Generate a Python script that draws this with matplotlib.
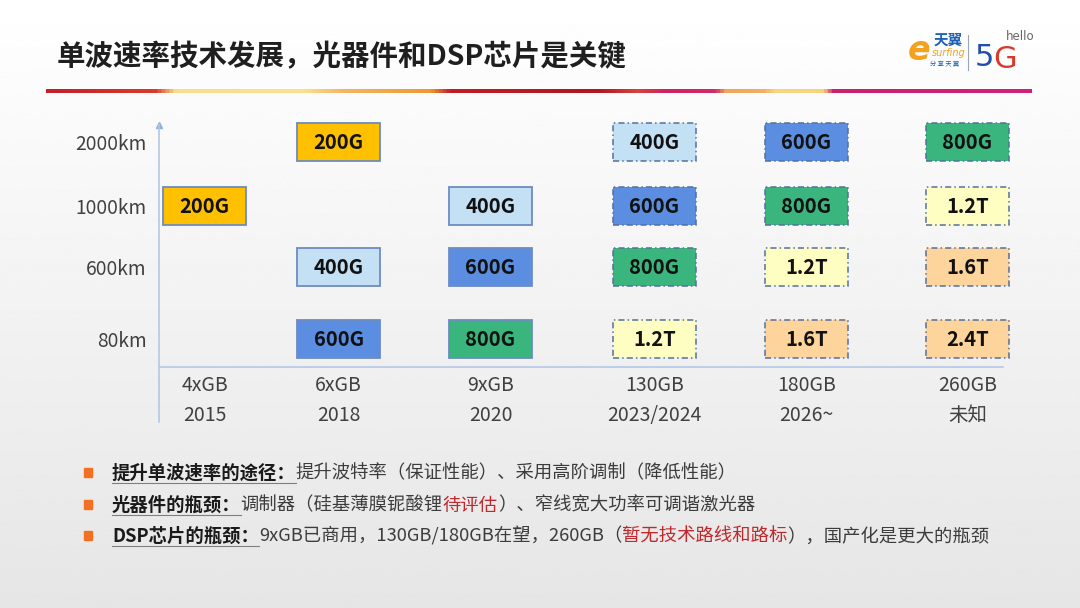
import matplotlib.pyplot as plt
import numpy as np
from matplotlib.patches import Rectangle
from matplotlib.colors import LinearSegmentedColormap

plt.rcParams['font.family'] = ['Noto Sans CJK SC', 'DejaVu Sans']

# ---- data ----
distances = ['80km', '600km', '1000km', '2000km']
baud_rates = ['4xGB', '6xGB', '9xGB', '130GB', '180GB', '260GB']
years = ['2015', '2018', '2020', '2023/2024', '2026~', '未知']
# single-wave rate per column, from 80km (bottom) up to 2000km; None = no box
rates = [
    [None, None, '200G', None],
    ['600G', '400G', None, '200G'],
    ['800G', '600G', '400G', None],
    ['1.2T', '800G', '600G', '400G'],
    ['1.6T', '1.2T', '800G', '600G'],
    ['2.4T', '1.6T', '1.2T', '800G'],
]
commercial = [True, True, True, False, False, False]

title = '单波速率技术发展，光器件和DSP芯片是关键'
bullets = [
    [('提升单波速率的途径：', 'b'), ('提升波特率（保证性能）、采用高阶调制（降低性能）', 'n')],
    [('光器件的瓶颈：', 'b'), ('调制器（硅基薄膜铌酸锂', 'n'), ('待评估', 'r'),
     ('）、窄线宽大功率可调谐激光器', 'n')],
    [('DSP芯片的瓶颈：', 'b'), ('9xGB已商用，130GB/180GB在望，260GB（', 'n'),
     ('暂无技术路线和路标', 'r'), ('），国产化是更大的瓶颈', 'n')],
]

# layout: slide column / row placement (not data)
col_pos = [0, 0.878, 1.874, 2.949, 3.945, 5.0]
row_pos = [0, 1.096, 2.024, 3.0]

rate_colors = {
    '200G': '#ffc000',
    '400G': '#c3e0f5',
    '600G': '#5b8ee0',
    '800G': '#3bb57e',
    '1.2T': '#fefec3',
    '1.6T': '#fcd49c',
    '2.4T': '#fcd49c',
}
seg_colors = {'b': '#1a1a1a', 'n': '#3c3c3c', 'r': '#c0282d'}

fig = plt.figure(figsize=(10.8, 6.08), dpi=100)

# ---- slide background / decorations (pixel coordinates) ----
bg = fig.add_axes([0, 0, 1, 1])
grad = np.linspace(1.0, 0.90, 256)[:, None]
bg.imshow(grad, extent=[0, 1080, 608, 0], cmap='gray', vmin=0, vmax=1, aspect='auto', zorder=0)

line_cmap = LinearSegmentedColormap.from_list('bar', [
    (0.0, '#c41f2a'), (0.11, '#dc3a2c'), (0.13, '#f9df8c'), (0.26, '#fbe08e'),
    (0.30, '#f5b664'), (0.39, '#ee9830'), (0.41, '#c21d27'), (0.56, '#b3141f'),
    (0.60, '#d8423a'), (0.63, '#cf2063'), (0.68, '#d62a6a'), (0.69, '#f0a55a'),
    (0.73, '#f3b066'), (0.74, '#f9d680'), (0.79, '#f9d27c'), (0.80, '#cc1f6c'),
    (1.0, '#d21f78')])
bg.imshow(np.linspace(0, 1, 512)[None, :], extent=[46, 1032, 93, 89], cmap=line_cmap,
          aspect='auto', zorder=1)

bg.text(57, 57, title, fontsize=20.5, fontweight='bold', va='center', ha='left', color='#1f1f1f')

# logo (approximation)
bg.text(908, 50, 'e', fontsize=24, color='#f4a11d', fontweight='bold', style='italic',
        va='center', ha='left', family='DejaVu Sans')
bg.text(934, 40, '天翼', fontsize=10.5, color='#1d5fb5', fontweight='bold', va='center', ha='left')
bg.text(932, 53, 'surfing', fontsize=7, color='#f4a11d', style='italic', va='center', ha='left',
        family='DejaVu Sans')
bg.text(930, 64, '分 享 天 翼', fontsize=4.5, color='#1d5fb5', va='center', ha='left')
bg.plot([968, 968], [35, 70], color='#9aa5b5', lw=0.8)
bg.text(975, 58, '5', fontsize=22, color='#1f4fa8', va='center', ha='left', family='DejaVu Sans')
bg.text(993, 59, 'G', fontsize=22, color='#d8392b', va='center', ha='left', family='DejaVu Sans')
bg.text(1006, 37, 'hello', fontsize=8.5, color='#666666', va='center', ha='left', family='DejaVu Sans')

# bullets
bullet_y = [473, 505, 536]
bold_texts = []
for y, segs in zip(bullet_y, bullets):
    bg.add_patch(Rectangle((84, y - 5), 8, 9, color='#f36f21', zorder=3))
    prev = None
    for s, kind in segs:
        weight = 'bold' if kind == 'b' else 'normal'
        if prev is None:
            prev = bg.text(112, y, s, fontsize=13.2, fontweight=weight, color=seg_colors[kind],
                           va='center', ha='left')
        else:
            prev = bg.annotate(s, xy=(1, 0), xycoords=prev, fontsize=13.2, fontweight=weight,
                               color=seg_colors[kind], va='bottom', ha='left')
        if kind == 'b':
            bold_texts.append(prev)

bg.set_xlim(0, 1080)
bg.set_ylim(608, 0)
bg.axis('off')

# ---- chart ----
ax = fig.add_axes([0.1472, 0.306, 0.788, 0.4885])
ax.set_xlim(-0.30, 5.28)
ax.set_ylim(-1.26, 3.26)
ax.patch.set_alpha(0)
for side in ['top', 'right', 'bottom']:
    ax.spines[side].set_visible(False)
axis_color = '#b4c7e7'
ax.spines['left'].set_color(axis_color)
ax.spines['left'].set_linewidth(1.2)
ax.plot(0, 1, marker='^', ms=5, color='#8fb0e0', transform=ax.transAxes, clip_on=False)
ax.axhline(-0.426, xmin=0, xmax=0.992, color=axis_color, lw=1.2)

ax.set_yticks(row_pos, distances)
ax.tick_params(axis='y', length=0, pad=9, labelsize=13.8, labelcolor='#404040')
ax.set_xticks([])

for x, b, yr in zip(col_pos, baud_rates, years):
    ax.text(x, -0.70, b, ha='center', va='center', fontsize=14, color='#404040')
    ax.text(x, -1.16, yr, ha='center', va='center', fontsize=14, color='#404040')

bw, bh = 0.544, 0.578
for i, col in enumerate(rates):
    for j, r in enumerate(col):
        if r is None:
            continue
        if commercial[i]:
            ls, ec, lw = '-', '#6c8cc0', 1.3
        else:
            ls, ec, lw = (0, (4, 2, 1, 2)), '#54709c', 1.1
        x, y = col_pos[i], row_pos[j]
        ax.add_patch(Rectangle((x - bw / 2, y - bh / 2), bw, bh, facecolor=rate_colors[r],
                               edgecolor=ec, linestyle=ls, linewidth=lw, zorder=2,
                               clip_on=False))
        ax.text(x, y, r, ha='center', va='center', fontsize=14.5, fontweight='bold',
                color='#111111', zorder=3)

# underline the bold bullet headings
fig.canvas.draw()
inv = bg.transData.inverted()
for t in bold_texts:
    ext = t.get_window_extent()
    (x0, y0), (x1, y1) = inv.transform([(ext.x0, ext.y0), (ext.x1, ext.y1)])
    bg.plot([x0, x1], [y0 + 0.5, y0 + 0.5], color='#7f7f7f', lw=0.8)
bg.set_xlim(0, 1080)
bg.set_ylim(608, 0)

fig.savefig('out.png', dpi=100)
